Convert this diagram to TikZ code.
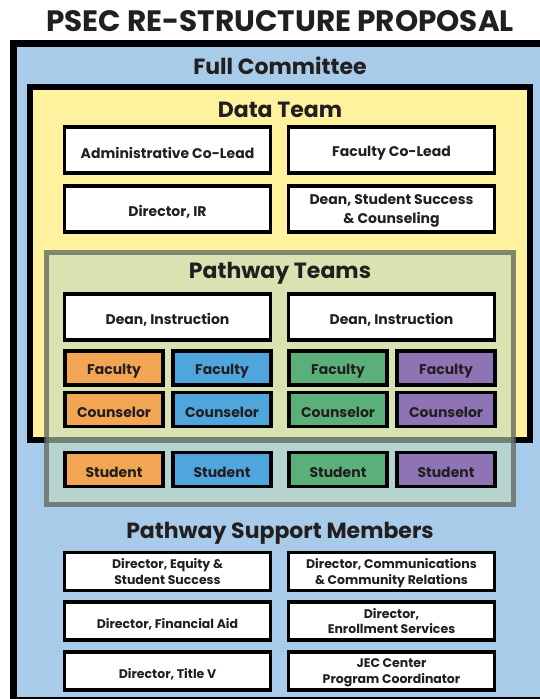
\documentclass[tikz,border=0pt]{standalone}
\usepackage{fontspec}
\setmainfont{Poppins}
\usetikzlibrary{positioning}

\definecolor{fullblue}{RGB}{168,203,234}
\definecolor{datayellow}{RGB}{255,242,158}
\definecolor{pathgreen}{RGB}{190,218,190}
\definecolor{pathedge}{RGB}{95,100,90}
\definecolor{orangebox}{RGB}{242,165,83}
\definecolor{bluebox}{RGB}{79,166,221}
\definecolor{greenbox}{RGB}{91,176,122}
\definecolor{purplebox}{RGB}{142,116,181}
\definecolor{ink}{RGB}{35,31,32}

\begin{document}
\begin{tikzpicture}[
            x = 1pt, y = -1pt, % one unit is one pixel, y downwards
            text = ink,
            inner sep = 0pt
        ]

        \tikzstyle{member}=[
            draw = black,
            line width = 3.5pt,
            fill = white,
            minimum width = 206pt,
            minimum height = 46pt,
            align = center,
            font = \bfseries\fontsize{14}{18.5}\selectfont,
            execute at begin node = {\rule{0pt}{17pt}} % sit the text a bit low
        ]
        \tikzstyle{seat}=[
            member,
            minimum width = 98pt,
            minimum height = 34pt
        ]
        \tikzstyle{helper}=[
            member,
            minimum height = 38pt,
            font = \bfseries\fontsize{12.5}{15.5}\selectfont,
            execute at begin node = {\rule{0pt}{15.5pt}}
        ]
        \tikzstyle{twolines}=[
            text depth = -5pt
        ]
        \tikzstyle{heading}=[
            font = \bfseries\fontsize{22}{26}\selectfont
        ]

        \useasboundingbox (0,0) rectangle (540,699);
        \clip (0,0) rectangle (540,699);

        \node[font=\bfseries\fontsize{29.5}{34}\selectfont] (title) at (280,21) {PSEC RE-STRUCTURE PROPOSAL};

        % committee frames
        \draw[line width=6.5pt, fill=fullblue] (13.5,43.5) rectangle (546.5,700);
        \draw[line width=6pt, fill=datayellow] (30,87) rectangle (530,440);
        \draw[line width=5pt, draw=pathedge, fill=pathgreen, fill opacity=0.6, draw opacity=0.75] (46.3,252.5) rectangle (513.7,504);

        \node[heading] (full) at (280,66) {Full Committee};
        \node[heading] (data) at (280,110) {Data Team};
        \node[heading] (path) at (280,273) {Pathway Teams};
        \node[heading] (support) at (280,533) {Pathway Support Members};

        \node[member] (adm) at (167.5,150) {Administrative Co-Lead};
        \node[member] (fac) at (391.5,150) {Faculty Co-Lead};
        \node[member] (ir)  at (167.5,209) {Director, IR};
        \node[member, twolines] (dss) at (391.5,209) {Dean, Student Success\\\& Counseling};

        \node[member] (dean1) at (167.5,317) {Dean, Instruction};
        \node[member] (dean2) at (391.5,317) {Dean, Instruction};

        \node[seat, fill=orangebox] (f1) at (114,368) {Faculty};
        \node[seat, fill=bluebox]   (f2) at (222,368) {Faculty};
        \node[seat, fill=greenbox]  (f3) at (338,368) {Faculty};
        \node[seat, fill=purplebox] (f4) at (446,368) {Faculty};

        \node[seat, fill=orangebox] (c1) at (114,409.5) {Counselor};
        \node[seat, fill=bluebox]   (c2) at (222,409.5) {Counselor};
        \node[seat, fill=greenbox]  (c3) at (338,409.5) {Counselor};
        \node[seat, fill=purplebox] (c4) at (446,409.5) {Counselor};

        \node[seat, fill=orangebox] (s1) at (114,469.5) {Student};
        \node[seat, fill=bluebox]   (s2) at (222,469.5) {Student};
        \node[seat, fill=greenbox]  (s3) at (338,469.5) {Student};
        \node[seat, fill=purplebox] (s4) at (446,469.5) {Student};

        \node[helper, twolines] (equity) at (167.5,571.5) {Director, Equity \&\\Student Success};
        \node[helper, twolines] (comms)  at (391.5,571.5) {Director, Communications\\\& Community Relations};
        \node[helper] (aid)    at (167.5,621) {Director, Financial Aid};
        \node[helper, twolines] (enroll) at (391.5,621) {Director,\\Enrollment Services};
        \node[helper] (title5) at (167.5,671) {Director, Title V};
        \node[helper, twolines] (jec)    at (391.5,671) {JEC Center\\Program Coordinator};
    \end{tikzpicture}
\end{document}
